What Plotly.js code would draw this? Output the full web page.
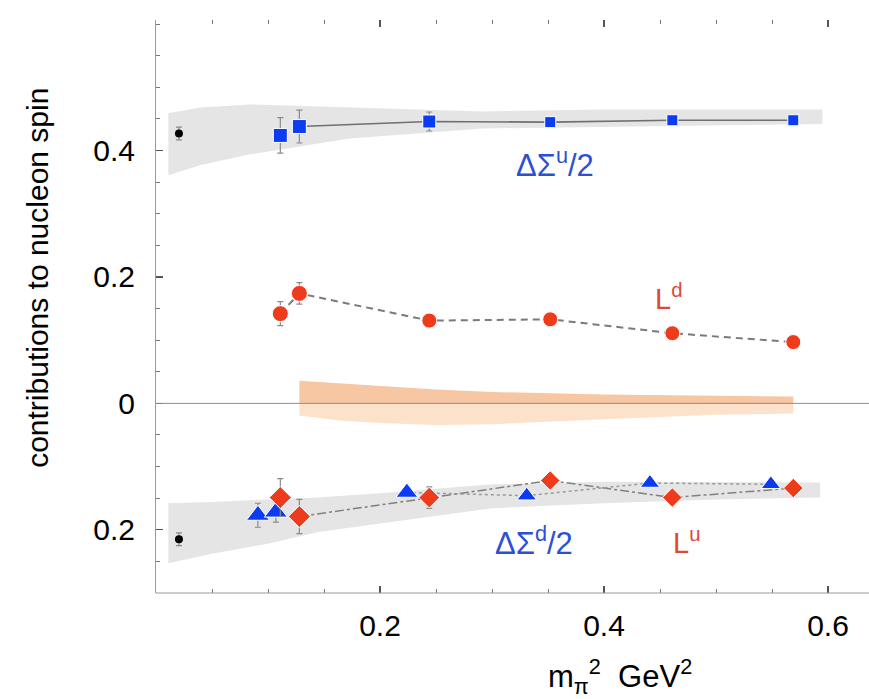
<!DOCTYPE html>
<html>
<head>
<meta charset="utf-8">
<script src="https://cdn.plot.ly/plotly-3.0.1.min.js"></script>
<style>html,body{margin:0;padding:0;background:#fff;}#chart{width:869px;height:699px;}</style>
</head>
<body>
<div id="chart"></div>
<script>
// ---- data ----
const mpi2 = [0.111, 0.128, 0.244, 0.352, 0.461, 0.569];
const sigmaU = [0.424, 0.438, 0.446, 0.445, 0.448, 0.448];
const sigmaUErr = [0.028, 0.026, 0.015, 0, 0, 0];
const Ld = [0.142, 0.174, 0.131, 0.133, 0.111, 0.097];
const LdErr = [0.019, 0.017, 0, 0, 0, 0];
const Lu = [-0.149, -0.179, -0.149, -0.122, -0.149, -0.134];
const LuErr = [0.03, 0.027, 0.017, 0, 0, 0];
const mpi2Tri = [0.091, 0.107, 0.224, 0.331, 0.441, 0.549];
const sigmaD = [-0.177, -0.172, -0.141, -0.146, -0.126, -0.128];
const sigmaDErr = [0.019, 0.016, 0, 0, 0, 0];
const physX = [0.0205, 0.0205];
const physY = [0.427, -0.215];
const physErr = [0.01, 0.01];

const bandUx = [0.011, 0.04, 0.084, 0.173, 0.292, 0.4, 0.5, 0.595];
const bandUhi = [0.459, 0.468, 0.473, 0.468, 0.462, 0.465, 0.465, 0.465];
const bandUlo = [0.361, 0.377, 0.394, 0.419, 0.435, 0.437, 0.440, 0.442];

const bandDx = [0.011, 0.05, 0.1, 0.144, 0.2, 0.3, 0.4, 0.5, 0.593];
const bandDhi = [-0.158, -0.156, -0.152, -0.149, -0.142, -0.128, -0.124, -0.124, -0.125];
const bandDlo = [-0.253, -0.238, -0.222, -0.204, -0.19, -0.166, -0.158, -0.152, -0.149];

const bandOx = [0.128, 0.164, 0.2, 0.25, 0.3, 0.4, 0.5, 0.569];
const bandOhi = [0.036, 0.032, 0.028, 0.022, 0.018, 0.014, 0.012, 0.011];
const bandOlo = [-0.019, -0.027, -0.031, -0.034, -0.033, -0.025, -0.018, -0.016];
const bandOmid = [0, 0, 0, 0, 0, 0, 0, 0];

const yTickVals = [-0.2, 0, 0.2, 0.4];
const yTickText = ['0.2', '0', '0.2', '0.4'];
const xTickVals = [0.2, 0.4, 0.6];
const xTickText = ['0.2', '0.4', '0.6'];

// ---- helpers ----
function poly(x, hi, lo) {
  return { x: x.concat(x.slice().reverse()), y: hi.concat(lo.slice().reverse()) };
}
const pU = poly(bandUx, bandUhi, bandUlo);
const pD = poly(bandDx, bandDhi, bandDlo);
const pO1 = poly(bandOx, bandOhi, bandOmid);
const pO2 = poly(bandOx, bandOmid, bandOlo);

const BLUE = '#0b3cf2';
const RED = '#ee3b1c';
const errStyle = (arr) => ({ type: 'data', array: arr, visible: true, color: '#8a8a8a', thickness: 1.2, width: 3 });

const traces = [
  { x: pU.x, y: pU.y, fill: 'toself', fillcolor: '#e5e5e5', line: { width: 0 }, mode: 'lines', hoverinfo: 'skip' },
  { x: pD.x, y: pD.y, fill: 'toself', fillcolor: '#e5e5e5', line: { width: 0 }, mode: 'lines', hoverinfo: 'skip' },
  { x: pO1.x, y: pO1.y, fill: 'toself', fillcolor: '#f7c6a3', line: { width: 0 }, mode: 'lines', hoverinfo: 'skip' },
  { x: pO2.x, y: pO2.y, fill: 'toself', fillcolor: '#fce2cb', line: { width: 0 }, mode: 'lines', hoverinfo: 'skip' },
  // connecting lines
  { x: mpi2.slice(1), y: sigmaU.slice(1), mode: 'lines', line: { color: '#707070', width: 1.6 } },
  { x: mpi2, y: Ld, mode: 'lines', line: { color: '#7a7a7a', width: 2, dash: '7px,5px' } },
  { x: mpi2.slice(1), y: Lu.slice(1), mode: 'lines', line: { color: '#808080', width: 1.5, dash: 'dashdot' } },
  { x: mpi2Tri.slice(2), y: sigmaD.slice(2), mode: 'lines', line: { color: '#9a9a9a', width: 1.5, dash: 'dot' } },
  // markers
  { x: mpi2, y: sigmaU, mode: 'markers', error_y: errStyle(sigmaUErr),
    marker: { symbol: 'square', color: BLUE, opacity: 1, size: [14, 14, 13, 11, 11, 11] } },
  { x: mpi2, y: Ld, mode: 'markers', error_y: errStyle(LdErr),
    marker: { symbol: 'circle', color: RED, opacity: 1, size: [16, 16, 15, 15, 15, 15] } },
  { x: mpi2Tri, y: sigmaD, mode: 'markers', error_y: errStyle(sigmaDErr),
    marker: { symbol: 'triangle-up', color: BLUE, opacity: 1, size: [20, 20, 19, 17, 17, 17] } },
  { x: mpi2, y: Lu, mode: 'markers', error_y: errStyle(LuErr),
    marker: { symbol: 'diamond', color: RED, opacity: 1, size: [17, 17, 16, 15, 15, 15] } },
  { x: physX, y: physY, mode: 'markers', error_y: errStyle(physErr),
    marker: { symbol: 'circle', color: '#000', opacity: 1, size: 8 } }
];

const FONT = 'Liberation Sans';
const XRANGE = [0, 0.6366];
const layout = {
  width: 869, height: 699,
  margin: { l: 156, r: 0, t: 20, b: 106 },
  paper_bgcolor: '#fff', plot_bgcolor: '#fff',
  showlegend: false,
  font: { family: FONT, color: '#000', size: 24 },
  xaxis: {
    range: XRANGE, showgrid: false, zeroline: false,
    showline: false, mirror: 'ticks',
    tickmode: 'array', tickvals: xTickVals, ticktext: xTickText,
    ticks: 'inside', ticklen: 7, tickcolor: '#555', tickwidth: 1.2,
    minor: { dtick: 0.05, tick0: 0, ticks: 'inside', ticklen: 4, tickcolor: '#777', tickwidth: 1 },
    ticklabelstandoff: 12,
    tickfont: { family: FONT, size: 30, color: '#000' }
  },
  yaxis: {
    range: [-0.30, 0.6066], showgrid: false, zeroline: false,
    showline: true, linecolor: '#9a9a9a', linewidth: 1,
    tickmode: 'array', tickvals: yTickVals, ticktext: yTickText,
    ticks: 'inside', ticklen: 7, tickcolor: '#555', tickwidth: 1.2,
    minor: { dtick: 0.05, tick0: 0, ticks: 'inside', ticklen: 4, tickcolor: '#777', tickwidth: 1 },
    ticklabelstandoff: 14,
    tickfont: { family: FONT, size: 30, color: '#000' }
  },
  shapes: [
    { type: 'line', xref: 'paper', x0: 0, x1: 1, yref: 'y', y0: 0, y1: 0,
      line: { color: '#8c8c8c', width: 1 }, layer: 'above' },
    { type: 'line', xref: 'paper', x0: 0, x1: 1, yref: 'paper', y0: 0, y1: 0,
      line: { color: '#9a9a9a', width: 1 }, layer: 'above' }
  ],
  annotations: [
    { text: 'contributions to nucleon spin', xref: 'paper', yref: 'paper', x: -0.1655, y: 0.55,
      xanchor: 'center', yanchor: 'middle',
      textangle: -90, showarrow: false, font: { family: FONT, size: 30, color: '#000' } },
    { text: 'm<sub>π</sub><sup>2</sup>  GeV<sup>2</sup>', xref: 'paper', yref: 'paper', x: 0.651, y: -0.145,
      xanchor: 'center', yanchor: 'middle',
      showarrow: false, font: { family: FONT, size: 31, color: '#000' } },
    { text: 'ΔΣ<sup>u</sup>/2', xref: 'x', yref: 'y', x: 0.356, y: 0.381, showarrow: false,
      xanchor: 'center', yanchor: 'middle',
      font: { family: FONT, size: 31, color: '#2c4fd6' } },
    { text: 'L<sup>d</sup>', xref: 'x', yref: 'y', x: 0.458, y: 0.168, showarrow: false,
      xanchor: 'center', yanchor: 'middle',
      font: { family: FONT, size: 29, color: '#dc4a36' } },
    { text: 'ΔΣ<sup>d</sup>/2', xref: 'x', yref: 'y', x: 0.3375, y: -0.218, showarrow: false,
      xanchor: 'center', yanchor: 'middle',
      font: { family: FONT, size: 31, color: '#2c4fd6' } },
    { text: 'L<sup>u</sup>', xref: 'x', yref: 'y', x: 0.474, y: -0.217, showarrow: false,
      xanchor: 'center', yanchor: 'middle',
      font: { family: FONT, size: 29, color: '#dc4a36' } }
  ]
};

Plotly.newPlot('chart', traces, layout, { staticPlot: true, displayModeBar: false });
</script>
</body>
</html>
